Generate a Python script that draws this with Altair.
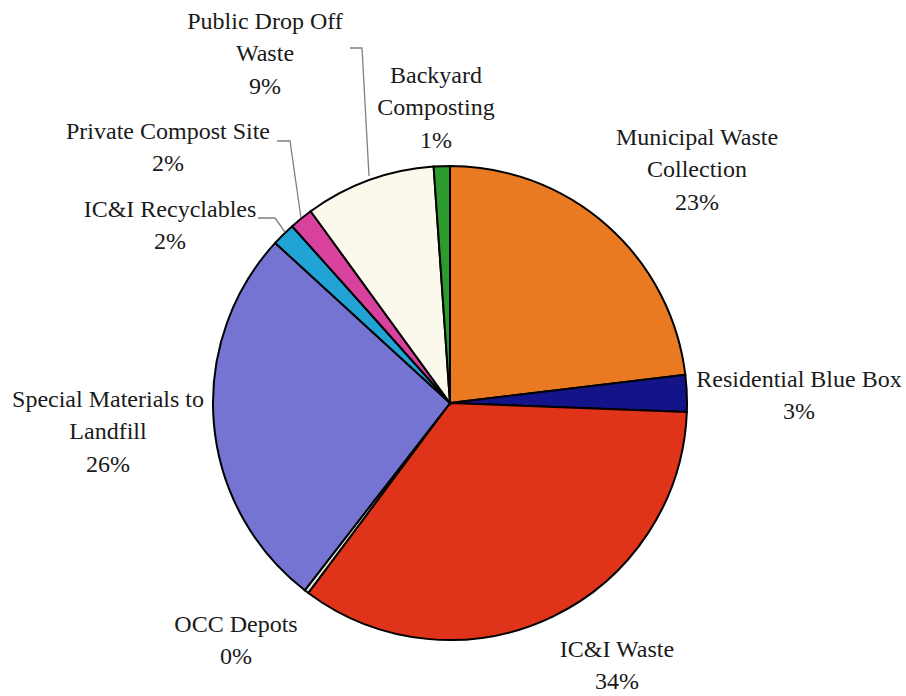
import altair as alt
import pandas as pd

# ---- data ----
categories = ["Municipal Waste Collection", "Residential Blue Box", "IC&I Waste", "OCC Depots",
              "Special Materials to Landfill", "IC&I Recyclables", "Private Compost Site",
              "Public Drop Off Waste", "Backyard Composting"]
values = [23.1, 2.5, 34.6, 0.3, 26.3, 1.6, 1.6, 8.9, 1.1]
pct_labels = ["23%", "3%", "34%", "0%", "26%", "2%", "2%", "9%", "1%"]
label_names = ["Municipal Waste\nCollection", "Residential Blue Box", "IC&I Waste", "OCC Depots",
               "Special Materials to\nLandfill", "IC&I Recyclables", "Private Compost Site",
               "Public Drop Off\nWaste", "Backyard\nComposting"]

# ---- styles / layout ----
colors = ["#E97A22", "#13138A", "#E0341A", "#E4EEDC", "#7574D2",
          "#22A3D6", "#D9419E", "#FBF8EC", "#2C9A2C"]
W, H = 906, 696
CX, CY, R = 450, 403, 237
FONT = "Liberation Serif"
LH = 32.5
# label block centre offsets from pie centre
label_dx = [247, 349, 167, -214, -342, -280, -282, -185, -14]
label_dy = [-233, -7, 263, 238, 29, -177, -255, -349, -295]
# leader lines (offsets from pie centre)
leader_group = ["pub", "pub", "pub", "priv", "priv", "priv", "rec", "rec", "rec"]
leader_order = [0, 1, 2, 0, 1, 2, 0, 1, 2]
leader_dx = [-100, -88, -81, -173, -160, -149, -192, -175, -165]
leader_dy = [-355, -355, -227, -262, -262, -185, -185, -185, -171]

df = pd.DataFrame({
    "category": categories,
    "value": values,
    "order": list(range(len(categories))),
})
texts_full = [n + "\n" + p for n, p in zip(label_names, pct_labels)]
# first line sits at y; shift up so the block is centred
first_line_dy = [d - (t.count("\n")) * LH / 2 for d, t in zip(label_dy, texts_full)]
labels_df = pd.DataFrame({
    "category": categories,
    "text": texts_full,
    "dx": label_dx,
    "dy": first_line_dy,
})
leader_df = pd.DataFrame({
    "g": leader_group, "o": leader_order, "dx": leader_dx, "dy": leader_dy,
})

xs = alt.Scale(domain=[-CX, W - CX], range=[0, W])
ys = alt.Scale(domain=[-CY, H - CY], range=[0, H])

pie = alt.Chart(df).mark_arc(outerRadius=R, stroke="black", strokeWidth=2).encode(
    theta=alt.Theta("value:Q", stack=True),
    color=alt.Color("category:N", scale=alt.Scale(domain=categories, range=colors), legend=None),
    order=alt.Order("order:Q"),
    x=alt.value(CX),
    y=alt.value(CY),
)

leaders = alt.Chart(leader_df).mark_line(color="#808080", strokeWidth=1.3).encode(
    x=alt.X("dx:Q", scale=xs, axis=None),
    y=alt.Y("dy:Q", scale=ys, axis=None),
    detail="g:N",
    order="o:Q",
)

texts = alt.Chart(labels_df).mark_text(
    font=FONT, fontSize=24, lineHeight=LH, lineBreak="\n",
    align="center", baseline="middle", color="#1a1a1a",
).encode(
    x=alt.X("dx:Q", scale=xs, axis=None),
    y=alt.Y("dy:Q", scale=ys, axis=None),
    text="text:N",
)

chart = alt.layer(pie, leaders, texts).properties(
    width=W, height=H, padding=0,
    autosize=alt.AutoSizeParams(type="none"),
).configure_view(strokeWidth=0)

chart.save("out.html", embed_options={"renderer": "svg", "actions": False})
